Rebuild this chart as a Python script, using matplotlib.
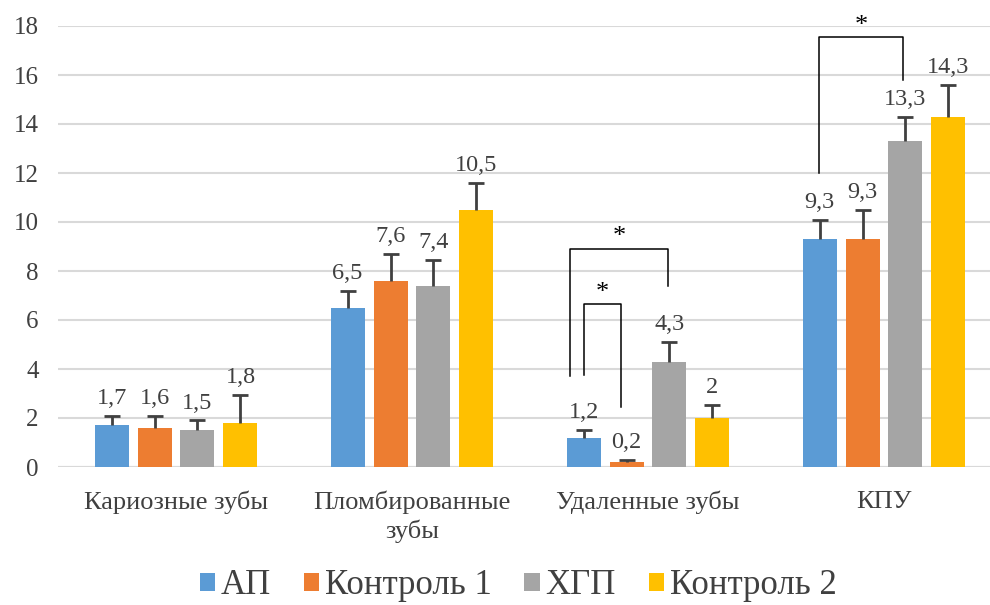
import numpy as np
import matplotlib
matplotlib.use('Agg')
import matplotlib.pyplot as plt

### Data
categories = ['Кариозные зубы', 'Пломбированные\nзубы', 'Удаленные зубы', 'КПУ']
series = ['АП', 'Контроль 1', 'ХГП', 'Контроль 2']
values = [[1.7, 6.5, 1.2, 9.3],
          [1.6, 7.6, 0.2, 9.3],
          [1.5, 7.4, 4.3, 13.3],
          [1.8, 10.5, 2.0, 14.3]]
errors = [[0.4, 0.7, 0.3, 0.8],
          [0.5, 1.1, 0.1, 1.2],
          [0.4, 1.05, 0.8, 1.0],
          [1.15, 1.1, 0.55, 1.3]]
colors = ['#5B9BD5', '#ED7D31', '#A5A5A5', '#FFC000']

### Significance brackets: (x left, x right, y left, y top, y right)
brackets = [(1.669, 2.085, 3.7, 8.9, 7.4),
            (1.729, 1.886, 3.75, 6.65, 2.45),
            (2.725, 3.080, 12.0, 17.55, 15.8)]

plt.rcParams['font.family'] = ['Liberation Serif', 'DejaVu Serif']
textcol = '#404040'

fig = plt.figure(figsize=(9.9, 6.05), dpi=100)
ax = fig.add_axes([58/990, 138/605, 944/990, 441/605])

x = np.arange(len(categories))
width = 0.144
step = 0.182

for i in range(len(series)):
    xs = x + (i - 1.5)*step
    ax.bar(xs, values[i], width, color=colors[i], label=series[i], zorder=3)
    eb = ax.errorbar(xs, values[i], yerr=[np.zeros(4), errors[i]], fmt='none',
                     ecolor='#404040', elinewidth=2, capsize=6, capthick=2,
                     zorder=4)
    eb[1][0].set_visible(False)   # drop lower caps
    for xv, v, e in zip(xs, values[i], errors[i]):
        lab = ('%g' % v).replace('.', ',')
        ax.annotate(lab, (xv, v + e), xytext=(0, 5), textcoords='offset points',
                    ha='center', va='bottom', fontsize=17.5, color=textcol,
                    zorder=5)

for xl, xr, yl, yt, yr in brackets:
    ax.plot([xl, xl, xr, xr], [yl, yt, yt, yr], color='black', linewidth=1.1,
            zorder=5)
    ax.text((xl + xr)/2, yt + 0.02, '*', ha='center', va='bottom',
            fontsize=19, color='black', zorder=5)

ax.set_xlim(-0.5, 3.5)
ax.set_ylim(0, 18)
ax.set_yticks(np.arange(0, 19, 2))
ax.set_xticks(x)
ax.set_xticklabels(categories, fontsize=19, color=textcol, linespacing=1.3)
ax.tick_params(axis='y', labelsize=18, labelcolor=textcol, length=0, pad=14)
ax.tick_params(axis='x', length=0, pad=17)
ax.yaxis.grid(True, color='#D9D9D9', linewidth=1.5, zorder=0)
for s in ax.spines.values():
    s.set_visible(False)
ax.axhline(0, color='#D9D9D9', linewidth=1.5, zorder=1)

le = fig.legend(*ax.get_legend_handles_labels(), loc='center', ncol=4,
                bbox_to_anchor=(518/990, 1 - 586/605), frameon=False,
                fontsize=25, handlelength=0.45, handleheight=0.45,
                handletextpad=0.15, columnspacing=0.95, borderpad=0.1)
for t in le.get_texts():
    t.set_color(textcol)

plt.savefig('out.png', dpi=100, facecolor='white')
